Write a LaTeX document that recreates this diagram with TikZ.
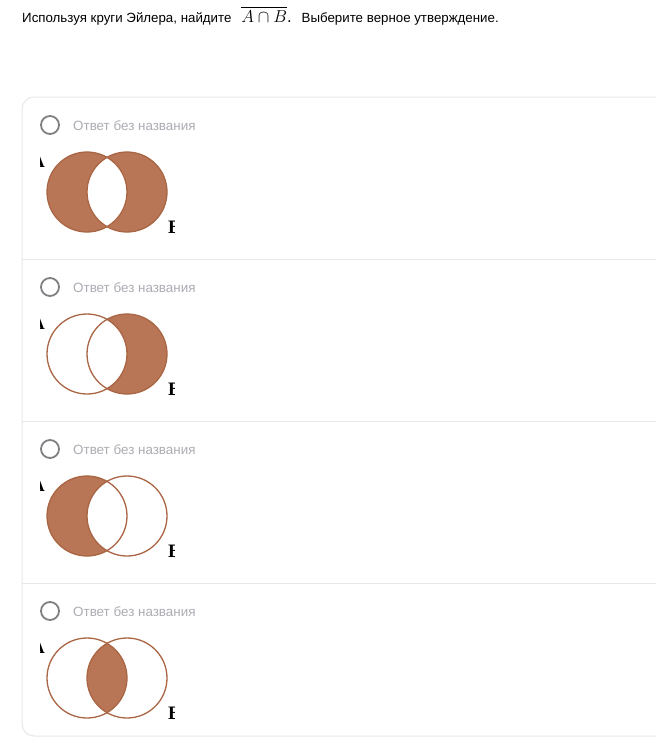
\documentclass[tikz,border=0pt]{standalone}
\usepackage{fontspec}
\setmainfont{Liberation Sans}
\newfontfamily\labelfont{Liberation Serif}
\usepackage{amsmath}
\usepackage{tikz}
\usetikzlibrary{calc}

\definecolor{venn}{RGB}{184,118,86}
\definecolor{venndraw}{RGB}{170,102,68}
\definecolor{cardline}{RGB}{232,232,234}
\definecolor{hint}{RGB}{172,172,180}
\definecolor{radio}{RGB}{128,128,132}

\begin{document}
\begin{tikzpicture}[x=1pt,y=-1pt,
        ring/.style={draw=venndraw,line width=1.3pt},
        radiobtn/.style={circle,draw=radio,line width=1.8pt,minimum size=18pt,inner sep=0pt},
        hinttext/.style={anchor=base west,inner sep=0pt,text=hint,font=\fontsize{13.4}{15}\selectfont},
        setlabel/.style={anchor=base west,inner sep=0pt,font=\labelfont\bfseries\fontsize{19}{19}\selectfont}]

        \def \r {40pt}
        \def \gap {162}

        \useasboundingbox (0,0) rectangle (656,740);
        \fill[white] (0,0) rectangle (656,740);

        % Draw question
        \node[anchor=base west,inner sep=0pt,font=\fontsize{13.3}{15}\selectfont] (question) at (22,22)
            {Используя круги Эйлера, найдите\hspace{10pt}{\fontsize{16.5}{18}\selectfont$\overline{A\cap B}$.}\hspace{10pt}Выберите верное утверждение.};

        % Draw card
        \draw[cardline,line width=1pt,rounded corners=12pt] (680,97) -- (22,97) -- (22,736) -- (680,736);
        \foreach \s in {1,2,3} {
            \pgfmathsetmacro \y {97 + \gap * \s}
            \draw[cardline,line width=1pt] (22,\y) -- (656,\y);
        }

        % Draw options
        \foreach \k in {0,...,3} {
            \pgfmathsetmacro \y {125 + \gap * \k}
            \node[radiobtn] (radio-\k) at (50,\y) {};
            \node[hinttext] (hint-\k) at (73,\y+5) {Ответ без названия};
            \coordinate (a-\k) at (87,\y+67);
            \coordinate (b-\k) at (127,\y+67);
            \ifcase\k
                \fill[venn,even odd rule] (a-\k) circle (\r) (b-\k) circle (\r);
            \or
                \begin{scope}
                    \clip (b-\k) circle (\r);
                    \fill[venn,even odd rule] (a-\k) circle (\r) (b-\k) circle (\r);
                \end{scope}
            \or
                \begin{scope}
                    \clip (a-\k) circle (\r);
                    \fill[venn,even odd rule] (a-\k) circle (\r) (b-\k) circle (\r);
                \end{scope}
            \or
                \begin{scope}
                    \clip (a-\k) circle (\r);
                    \fill[venn] (b-\k) circle (\r);
                \end{scope}
            \fi
            \draw[ring] (a-\k) circle (\r);
            \draw[ring] (b-\k) circle (\r);
            % cut-off set names
            \begin{scope}
                \clip (40,\y+29) rectangle (48,\y+43);
                \node[setlabel] (name-a-\k) at (31,\y+42) {A};
            \end{scope}
            \begin{scope}
                \clip (160,\y+88) rectangle (174,\y+112);
                \node[setlabel] (name-b-\k) at (168,\y+108) {B};
            \end{scope}
        }

    \end{tikzpicture}
\end{document}
